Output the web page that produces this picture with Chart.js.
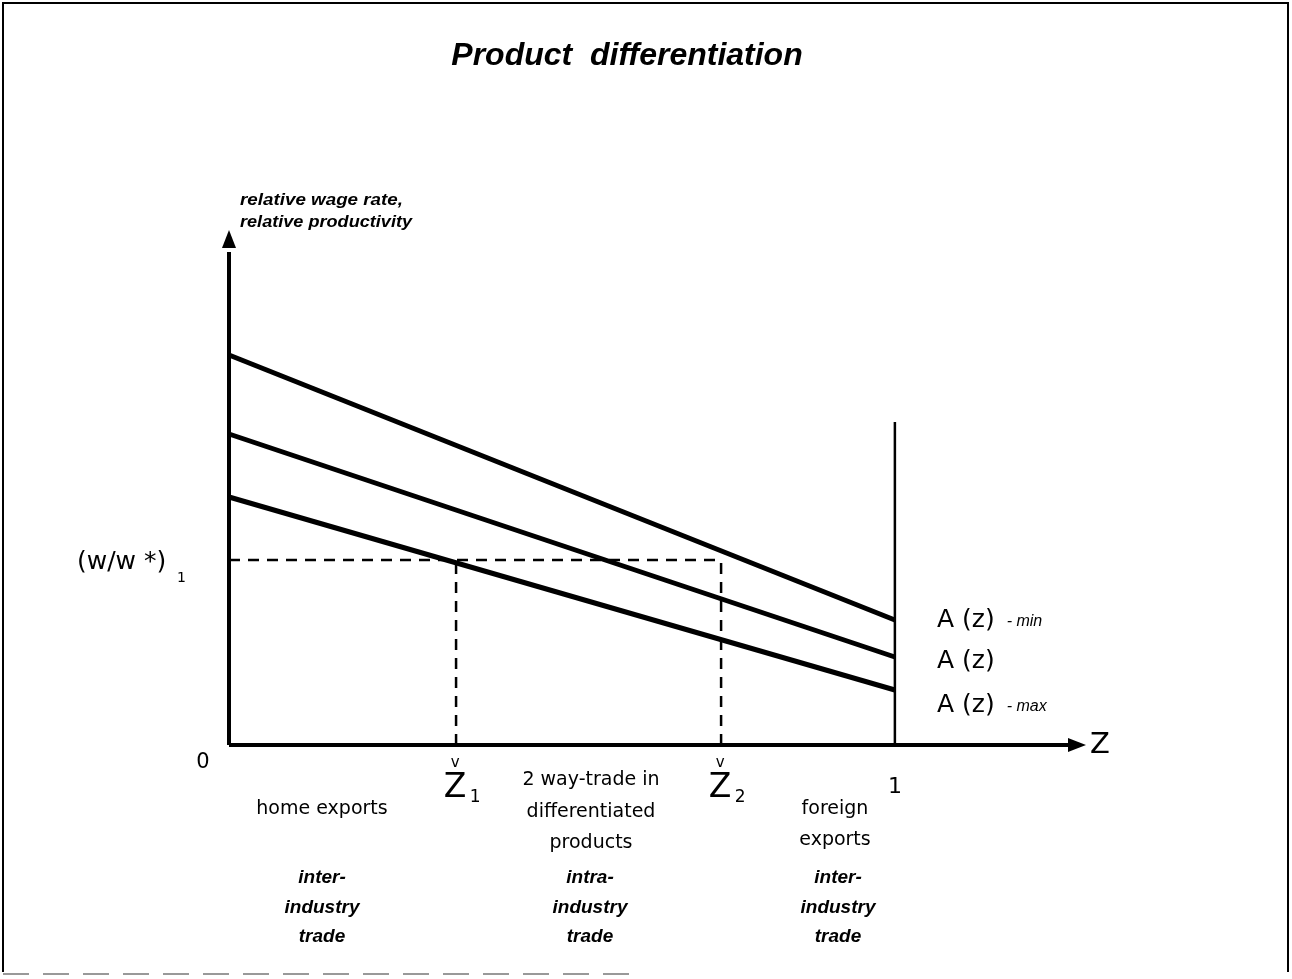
<!DOCTYPE html>
<html>
<head>
<meta charset="utf-8">
<script src="https://cdn.jsdelivr.net/npm/chart.js@4/dist/chart.umd.min.js"></script>
<style>
  html, body { margin: 0; padding: 0; background: #fff; }
  #wrap { width: 1292px; height: 979px; position: relative; }
</style>
</head>
<body>
<div id="wrap"><canvas id="diagram"></canvas></div>
<script>
// Z positions where each curve is sampled (0 .. 1)
const zNodes = [0, 1];
// relative productivity curves
const aMin = [3.90, 1.25];
const aMid = [3.11, 0.88];
const aMax = [2.48, 0.55];
const curveNames = ['A (z)', 'A (z)', 'A (z)'];
const curveSuffix = ['- min', '', '- max'];

// equilibrium wage and cut-off goods
const wageLevel = 1.85;
const z1 = 0.341;
const z2 = 0.739;
const endWall = 3.23;   // height of the vertical line at Z = 1

// axis extents
const xMax = 1.278;
const yMax = 5.13;

const pts = (xs, ys) => xs.map((x, i) => ({ x: x, y: ys[i] }));

const solid = (data, w) => ({
    data: data, borderColor: '#000', borderWidth: w, pointRadius: 0,
    showLine: true, fill: false, tension: 0, clip: false
});
const dashed = (data) => ({
    data: data, borderColor: '#000', borderWidth: 2.5, borderDash: [11, 8],
    pointRadius: 0, showLine: true, fill: false, tension: 0, clip: false
});

const sans = '"DejaVu Sans", "Liberation Sans", sans-serif';
const helv = '"Liberation Sans", Arial, sans-serif';

// stretch a left-aligned text to a given width (scan lettering is wide)
function fitText(ctx, txt, x, y, width) {
    const w = ctx.measureText(txt).width;
    ctx.save();
    ctx.translate(x, y);
    ctx.scale(width / w, 1);
    ctx.fillText(txt, 0, 0);
    ctx.restore();
}

// labels, frame and arrow heads
const annotations = {
    id: 'annotations',
    afterDraw(chart) {
        const ctx = chart.ctx;
        const xs = chart.scales.x, ys = chart.scales.y;
        const px = v => xs.getPixelForValue(v);
        const py = v => ys.getPixelForValue(v);
        ctx.save();
        ctx.fillStyle = '#000';
        ctx.strokeStyle = '#000';

        // frame
        ctx.lineWidth = 2;
        ctx.beginPath();
        ctx.moveTo(3, 972); ctx.lineTo(3, 3); ctx.lineTo(1288, 3); ctx.lineTo(1288, 972);
        ctx.stroke();
        ctx.strokeStyle = '#999';
        ctx.setLineDash([26, 14]);
        ctx.beginPath(); ctx.moveTo(3, 974); ctx.lineTo(640, 974); ctx.stroke();
        ctx.setLineDash([]);
        ctx.strokeStyle = '#000';

        // arrow heads
        const ox = px(0), oy = py(0);
        ctx.beginPath();
        ctx.moveTo(ox, py(yMax) - 2); ctx.lineTo(ox - 7, py(yMax) + 16); ctx.lineTo(ox + 7, py(yMax) + 16);
        ctx.closePath(); ctx.fill();
        ctx.beginPath();
        ctx.moveTo(px(xMax) + 6, oy); ctx.lineTo(px(xMax) - 12, oy - 7); ctx.lineTo(px(xMax) - 12, oy + 7);
        ctx.closePath(); ctx.fill();

        // title
        ctx.textAlign = 'center';
        ctx.textBaseline = 'middle';
        ctx.font = 'italic bold 32px ' + helv;
        ctx.fillText('Product  differentiation', 627, 56);

        // y axis caption
        ctx.textAlign = 'left';
        ctx.font = 'italic bold 17px ' + helv;
        fitText(ctx, 'relative wage rate,', 240, 200, 163);
        fitText(ctx, 'relative productivity', 240, 222, 172);

        // wage level label
        ctx.font = '25px ' + sans;
        ctx.fillText('(w/w *)', 77, 562);
        ctx.font = '14px ' + sans;
        ctx.fillText('1', 177, 578);

        // curve labels
        const ends = [aMin[1], aMid[1], aMax[1]];
        const offs = [0, 4, 15];
        ends.forEach((v, i) => {
            const y = py(v) + offs[i];
            ctx.font = '25px ' + sans;
            ctx.fillText(curveNames[i], 937, y);
            if (curveSuffix[i]) {
                const w = ctx.measureText(curveNames[i]).width;
                ctx.font = 'italic 16px ' + helv;
                ctx.fillText(curveSuffix[i], 937 + w + 12, y + 2);
            }
        });

        // axis ticks and names
        ctx.textAlign = 'center';
        ctx.font = '21px ' + sans;
        ctx.fillText('0', 203, 763);
        ctx.font = '22px ' + sans;
        ctx.fillText('1', px(1), 787);
        ctx.font = '29px ' + sans;
        ctx.fillText('Z', 1100, 745);
        [[z1, '1'], [z2, '2']].forEach(([z, s]) => {
            const x = px(z);
            ctx.font = '15px ' + sans;
            ctx.fillText('v', x - 1, 763);
            ctx.font = '33px ' + sans;
            ctx.fillText('Z', x - 1, 788);
            ctx.font = '17px ' + sans;
            ctx.fillText(s, x + 19, 798);
        });

        // region descriptions
        ctx.font = '19px ' + sans;
        ctx.fillText('home exports', 322, 809);
        ctx.fillText('2 way-trade in', 591, 780);
        ctx.fillText('differentiated', 591, 812);
        ctx.fillText('products', 591, 843);
        ctx.fillText('foreign', 835, 809);
        ctx.fillText('exports', 835, 840);

        ctx.font = 'italic bold 19px ' + helv;
        [[322, 'inter-'], [590, 'intra-'], [838, 'inter-']].forEach(([x, s]) => {
            ctx.fillText(s, x, 878);
            ctx.fillText('industry', x, 908);
            ctx.fillText('trade', x, 937);
        });

        ctx.restore();
    }
};

new Chart(document.getElementById('diagram'), {
    type: 'scatter',
    data: {
        datasets: [
            solid(pts(zNodes, aMin), 5),
            solid(pts(zNodes, aMid), 5),
            solid(pts(zNodes, aMax), 5),
            solid(pts([1, 1], [0, endWall]), 2.5),
            dashed(pts([0, z2], [wageLevel, wageLevel])),
            dashed(pts([z1, z1], [0, wageLevel])),
            dashed(pts([z2, z2], [0, wageLevel])),
            solid(pts([0, xMax], [0, 0]), 4),
            solid(pts([0, 0], [0, yMax - 0.2]), 4)
        ]
    },
    options: {
        responsive: true,
        maintainAspectRatio: false,
        animation: false,
        layout: { padding: { left: 229, right: 212, top: 232, bottom: 234 } },
        plugins: {
            legend: { display: false },
            tooltip: { enabled: false }
        },
        scales: {
            x: { type: 'linear', min: 0, max: xMax, display: false },
            y: { type: 'linear', min: 0, max: yMax, display: false }
        }
    },
    plugins: [annotations]
});
</script>
</body>
</html>
